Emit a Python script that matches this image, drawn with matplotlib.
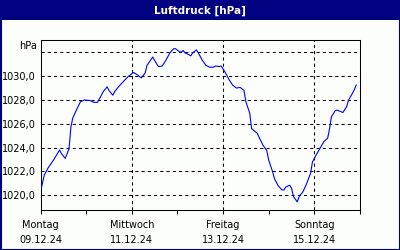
import matplotlib
matplotlib.use("Agg")
import matplotlib.pyplot as plt
from matplotlib.patches import Rectangle

# Stunden ab 09.12.24 00:00 und Luftdruck in hPa
stunden = [0, 2, 4, 7, 10, 11, 13, 15, 16, 17, 19, 21, 23, 26, 28, 30, 31, 33, 35, 36,
           38, 39, 41, 43, 46, 48, 49, 51, 53, 55, 56, 59, 61, 62, 64, 66, 68, 70, 71, 73,
           74, 75, 76, 78, 79, 80, 82, 83, 85, 87, 89, 91, 92, 94, 95, 97, 99, 101, 103, 105,
           107, 108, 110, 111, 114, 115, 117, 119, 120, 122, 123, 125, 127, 128, 129, 131, 132, 133, 135, 136,
           138, 140, 142, 143, 145, 147, 149, 151, 152, 153, 155, 156, 159, 161, 162, 164, 165, 166]
druck = [1020.3, 1021.7, 1022.3, 1023.0, 1023.8, 1023.5, 1023.1, 1023.9, 1025.75, 1026.5,
         1027.2, 1027.85, 1028.0, 1027.95, 1027.8, 1027.8, 1028.1, 1028.7, 1029.1, 1028.8,
         1028.4, 1028.7, 1029.1, 1029.45, 1029.95, 1030.2, 1030.3, 1030.1, 1029.85, 1030.25,
         1030.9, 1031.6, 1031.05, 1030.8, 1030.85, 1031.35, 1031.95, 1032.3, 1032.3, 1032.05,
         1032.0, 1032.15, 1031.95, 1031.8, 1031.7, 1031.95, 1032.2, 1031.95, 1031.35, 1030.9,
         1030.75, 1030.75, 1030.85, 1030.8, 1030.85, 1030.35, 1029.75, 1029.25, 1029.0, 1029.05,
         1028.8, 1027.85, 1026.9, 1025.6, 1025.2, 1024.85, 1024.2, 1023.75, 1022.95, 1022.0,
         1021.4, 1020.8, 1020.45, 1020.45, 1020.7, 1020.85, 1020.6, 1019.9, 1019.45, 1019.9,
         1020.3, 1021.0, 1021.85, 1022.8, 1023.4, 1023.95, 1024.5, 1024.8, 1025.6, 1026.6,
         1027.1, 1027.15, 1026.95, 1027.45, 1028.0, 1028.55, 1028.85, 1029.25]

tage = ["Montag", "Mittwoch", "Freitag", "Sonntag"]
daten = ["09.12.24", "11.12.24", "13.12.24", "15.12.24"]
y_ticks = [1020, 1022, 1024, 1026, 1028, 1030]
y_grid = [1020, 1022, 1024, 1026, 1028, 1030, 1032]

navy = "#000080"
bg = "#fbfefb"

fig = plt.figure(figsize=(4, 2.5), dpi=100, facecolor=bg)

# Titelleiste und Rahmen
fig.patches.append(Rectangle((0, 1 - 20 / 250), 1, 20 / 250, transform=fig.transFigure,
                             facecolor=navy, edgecolor="none", zorder=0))
fig.patches.append(Rectangle((0.5 / 400, 0.5 / 250), 399 / 400, 249 / 250, transform=fig.transFigure,
                             facecolor="none", edgecolor=navy, linewidth=1.5, zorder=5))
fig.text(0.5, 1 - 10.5 / 250, "Luftdruck [hPa]", color="white", fontsize=7.5,
         fontweight="bold", ha="center", va="center")

ax = fig.add_axes([40.5 / 400, 40 / 250, 319.5 / 400, 170 / 250])
ax.set_facecolor(bg)

x = [h / 24 for h in stunden]
ax.plot(x, druck, color="#0000ff", linewidth=0.8, zorder=3)

ax.set_xlim(0, 7)
ax.set_ylim(1018.77, 1033.03)

for g in y_grid:
    ax.axhline(g, color="black", linewidth=0.75, linestyle=(0, (3, 3)), zorder=1)
for d in [2, 4, 6]:
    ax.axvline(d, color="black", linewidth=0.75, linestyle=(0, (3, 3)), zorder=1)

ax.set_yticks(y_ticks)
ax.set_yticklabels([f"{v:.1f}".replace(".", ",") for v in y_ticks])
ax.tick_params(axis="y", length=0, pad=3.5, labelsize=7)

ax.set_xticks(range(8))
ax.set_xticklabels([f"{tage[i // 2]}\n{daten[i // 2]}" if i % 2 == 0 else "" for i in range(8)],
                   linespacing=1.7)
ax.tick_params(axis="x", length=3, width=0.75, direction="out", pad=4, labelsize=7)

for s in ax.spines.values():
    s.set_linewidth(0.75)
    s.set_color("black")

# Einheit oben links, etwas über der obersten Gitterlinie
ax.text(-3.5 / 319.5, 1032.5, "hPa", transform=ax.get_yaxis_transform(), fontsize=7,
        ha="right", va="center")

fig.savefig("out.png", dpi=100, facecolor=bg)
